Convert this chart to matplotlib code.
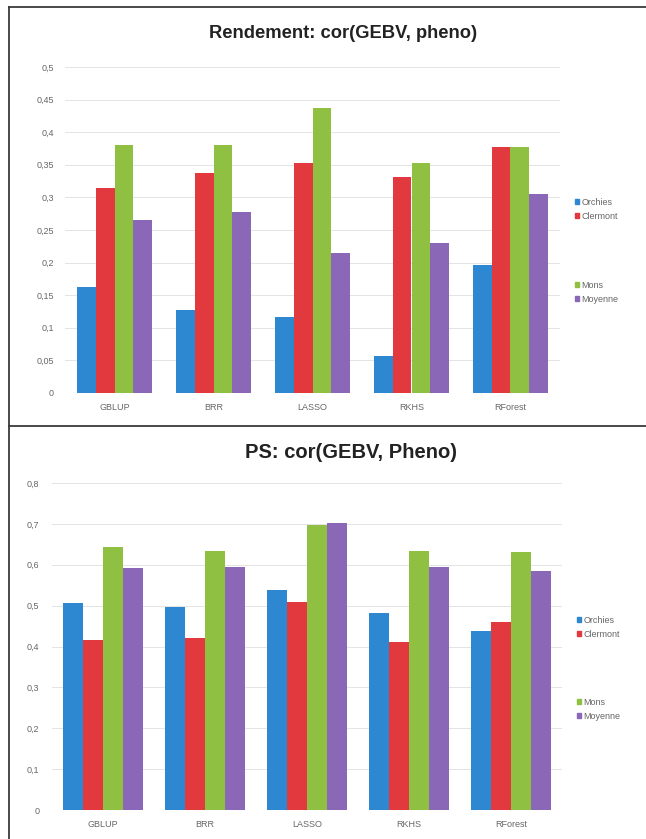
import numpy as np
import matplotlib.pyplot as plt
from matplotlib.lines import Line2D
from matplotlib.patches import Patch

plt.rcParams['font.family'] = ['Liberation Sans', 'DejaVu Sans']

methods = ['GBLUP', 'BRR', 'LASSO', 'RKHS', 'RForest']
sites = ['Orchies', 'Clermont', 'Mons', 'Moyenne']
colors = ['#2d87d1', '#e1393e', '#8fc041', '#8a68b7']

# Rendement: cor(GEBV, pheno)
rdt_orchies = [0.163, 0.128, 0.116, 0.056, 0.196]
rdt_clermont = [0.315, 0.337, 0.353, 0.331, 0.377]
rdt_mons = [0.380, 0.380, 0.437, 0.352, 0.377]
rdt_moyenne = [0.266, 0.278, 0.215, 0.230, 0.305]
rdt_ticks = ['0', '0,05', '0,1', '0,15', '0,2', '0,25', '0,3', '0,35', '0,4', '0,45', '0,5']

# PS: cor(GEBV, Pheno)
ps_orchies = [0.506, 0.496, 0.539, 0.482, 0.439]
ps_clermont = [0.415, 0.420, 0.509, 0.412, 0.461]
ps_mons = [0.643, 0.633, 0.697, 0.633, 0.632]
ps_moyenne = [0.593, 0.595, 0.702, 0.595, 0.584]
ps_ticks = ['0', '0,1', '0,2', '0,3', '0,4', '0,5', '0,6', '0,7', '0,8']

W, H = 646, 839
fig = plt.figure(figsize=(W / 100, H / 100), dpi=100)


def px_axes(x0, x1, y_top, y_bot):
    return fig.add_axes([x0 / W, 1 - y_bot / H, (x1 - x0) / W, (y_bot - y_top) / H])


def draw_chart(ax, series, ticks, step, bar_w, title, title_x, title_y, title_size,
               ypad, leg_x, leg_y1, leg_y2):
    x = np.arange(len(methods))
    for i, (vals, c) in enumerate(zip(series, colors)):
        ax.bar(x + (i - 1.5) * bar_w, vals, bar_w, color=c, zorder=3)
    ymax = step * (len(ticks) - 1)
    ax.set_ylim(0, ymax)
    ax.set_xlim(-0.5, len(methods) - 0.5)
    ax.set_yticks(np.arange(len(ticks)) * step)
    ax.set_yticklabels(ticks)
    ax.set_xticks(x)
    ax.set_xticklabels(methods)
    ax.tick_params(length=0, labelsize=6.5, labelcolor='#666666')
    ax.tick_params(axis='x', pad=7)
    ax.tick_params(axis='y', pad=ypad)
    ax.grid(axis='y', color='#e4e4e4', linewidth=0.7, zorder=0)
    for s in ax.spines.values():
        s.set_visible(False)
    fig.text(title_x / W, 1 - title_y / H, title, ha='center', va='center',
             fontsize=title_size, fontweight='bold', color='#222222')

    handles = [Patch(color=c, label=s) for c, s in zip(colors, sites)]
    for hs, ly in ((handles[:2], leg_y1), (handles[2:], leg_y2)):
        leg = fig.legend(handles=hs, loc='upper left',
                         bbox_to_anchor=(leg_x / W, 1 - ly / H),
                         frameon=False, fontsize=6.5, handlelength=0.4,
                         handleheight=0.4, handletextpad=0.3,
                         labelspacing=0.55, borderpad=0, borderaxespad=0)
        for t in leg.get_texts():
            t.set_color('#666666')


ax1 = px_axes(65, 560, 67, 393)
draw_chart(ax1, [rdt_orchies, rdt_clermont, rdt_mons, rdt_moyenne], rdt_ticks,
           0.05, 0.19, 'Rendement: cor(GEBV, pheno)', 343, 33, 13.2,
           8, 575, 198, 281)

ax2 = px_axes(52, 562, 483, 810)
draw_chart(ax2, [ps_orchies, ps_clermont, ps_mons, ps_moyenne], ps_ticks,
           0.1, 0.194, 'PS: cor(GEBV, Pheno)', 351, 453, 14.5,
           9, 577, 616, 698)

# frames around the two charts
fx = lambda v: v / W
fy = lambda v: 1 - v / H
frame = dict(color='#3a3a3a', linewidth=1.3, transform=fig.transFigure)
fig.add_artist(Line2D([fx(9), fx(W)], [fy(7), fy(7)], **frame))
fig.add_artist(Line2D([fx(9), fx(9)], [fy(7), fy(H)], **frame))
fig.add_artist(Line2D([fx(9), fx(W)], [fy(426), fy(426)], **frame))

fig.savefig('out.png', dpi=100, facecolor='white')
